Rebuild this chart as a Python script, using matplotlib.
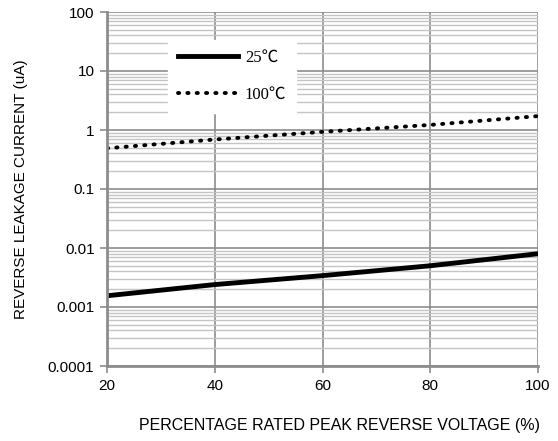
import matplotlib.pyplot as plt

# data
voltage_pct = [20, 40, 60, 80, 100]
leak_25c = [0.00155, 0.0024, 0.0034, 0.0050, 0.0080]
leak_100c = [0.49, 0.69, 0.93, 1.22, 1.72]
y_ticks = [0.0001, 0.001, 0.01, 0.1, 1, 10, 100]
y_labels = ['0.0001', '0.001', '0.01', '0.1', '1', '10', '100']
x_ticks = [20, 40, 60, 80, 100]

plt.rcParams['font.family'] = ['Liberation Sans', 'DejaVu Sans']

fig = plt.figure(figsize=(5.58, 4.41), dpi=100)
ax = fig.add_axes([107 / 558, 75 / 441, 431 / 558, 354 / 441])

ax.set_yscale('log')
ax.set_xlim(20, 100)
ax.set_ylim(0.0001, 100)

# grid
ax.grid(True, which='minor', axis='y', color='#c4c4c4', linewidth=1.0)
ax.grid(True, which='major', axis='y', color='#8c8c8c', linewidth=1.2)
ax.grid(True, which='major', axis='x', color='#8c8c8c', linewidth=1.2)
ax.set_axisbelow(True)

ax.plot(voltage_pct, leak_25c, color='black', linewidth=3.5, label='25\u2103')
ax.plot(voltage_pct, leak_100c, color='black', linewidth=2.8,
        linestyle=(0, (0.3, 2.1)), dash_capstyle='round', label='100\u2103')

ax.set_xticks(x_ticks)
ax.set_yticks(y_ticks)
ax.set_yticklabels(y_labels)
ax.tick_params(axis='both', which='major', labelsize=11, color='#8c8c8c',
               length=5, width=1.2, pad=4)
ax.tick_params(axis='y', which='minor', length=0)

for side in ['top', 'right']:
    ax.spines[side].set_visible(False)
for side in ['left', 'bottom']:
    ax.spines[side].set_color('#8c8c8c')
    ax.spines[side].set_linewidth(2)

ax.set_xlabel('PERCENTAGE RATED PEAK REVERSE VOLTAGE (%)', fontsize=11.5)
ax.xaxis.set_label_coords(0.54, -0.148)
ax.set_ylabel('REVERSE LEAKAGE CURRENT (uA)', fontsize=11, labelpad=14)

leg = ax.legend(loc='upper left', bbox_to_anchor=(0.142, 0.921), frameon=True,
                fancybox=False, edgecolor='white', framealpha=1,
                handlelength=3.6, handletextpad=0.4, borderpad=0.6, labelspacing=1.25,
                borderaxespad=0,
                prop={'family': ['Liberation Serif', 'Noto Sans CJK SC'], 'size': 12})

fig.savefig('out.png', dpi=100)
